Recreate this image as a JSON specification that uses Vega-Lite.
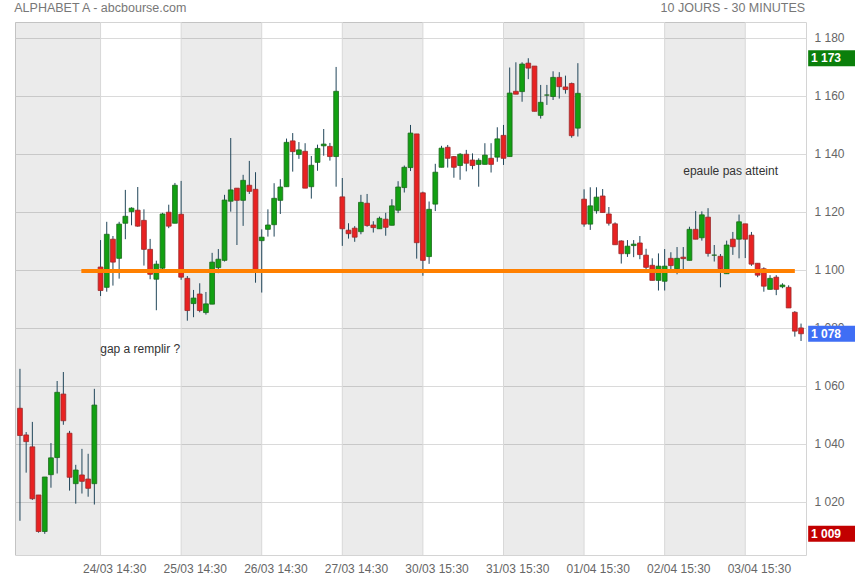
{
  "$schema": "https://vega.github.io/schema/vega-lite/v6.json",
  "width": 791,
  "height": 533,
  "autosize": {"type": "none"},
  "padding": {"left": 15, "top": 22, "right": 49, "bottom": 25},
  "background": "white",
  "config": {"view": {"stroke": "#d4d4d4"}, "font": "Liberation Sans"},
  "datasets": {
    "candles": [
      {"i":0,"o":1052.3,"h":1065.9,"l":1013.5,"c":1042.9},
      {"i":1,"o":1043.1,"h":1044.1,"l":1030.1,"c":1040.8},
      {"i":2,"o":1039.0,"h":1047.6,"l":1020.7,"c":1021.1},
      {"i":3,"o":1022.4,"h":1022.4,"l":1009.4,"c":1009.8},
      {"i":4,"o":1009.8,"h":1028.6,"l":1009.0,"c":1028.6},
      {"i":5,"o":1029.4,"h":1040.3,"l":1024.9,"c":1035.2},
      {"i":6,"o":1035.3,"h":1061.7,"l":1029.8,"c":1057.8},
      {"i":7,"o":1057.2,"h":1064.8,"l":1046.6,"c":1048.0},
      {"i":8,"o":1043.7,"h":1044.5,"l":1023.9,"c":1028.5},
      {"i":9,"o":1026.3,"h":1032.8,"l":1019.4,"c":1031.0},
      {"i":10,"o":1029.3,"h":1038.3,"l":1022.9,"c":1027.1},
      {"i":11,"o":1027.9,"h":1036.6,"l":1021.8,"c":1024.7},
      {"i":12,"o":1026.3,"h":1059.0,"l":1019.1,"c":1053.4},
      {"i":13,"o":1101.0,"h":1110.3,"l":1091.0,"c":1092.9},
      {"i":14,"o":1094.0,"h":1116.6,"l":1092.5,"c":1112.3},
      {"i":15,"o":1110.6,"h":1111.7,"l":1094.6,"c":1102.7},
      {"i":16,"o":1104.0,"h":1116.6,"l":1097.0,"c":1115.8},
      {"i":17,"o":1116.1,"h":1127.6,"l":1110.6,"c":1118.5},
      {"i":18,"o":1120.1,"h":1121.6,"l":1115.4,"c":1121.3},
      {"i":19,"o":1120.6,"h":1128.6,"l":1114.9,"c":1115.1},
      {"i":20,"o":1117.1,"h":1120.9,"l":1101.5,"c":1107.1},
      {"i":21,"o":1107.1,"h":1110.7,"l":1096.8,"c":1098.5},
      {"i":22,"o":1096.8,"h":1103.2,"l":1086.1,"c":1102.0},
      {"i":23,"o":1100.6,"h":1119.7,"l":1100.2,"c":1119.3},
      {"i":24,"o":1119.9,"h":1122.5,"l":1114.4,"c":1115.1},
      {"i":25,"o":1116.1,"h":1130.0,"l":1116.1,"c":1129.2},
      {"i":26,"o":1119.2,"h":1130.7,"l":1096.6,"c":1097.5},
      {"i":27,"o":1097.1,"h":1097.9,"l":1082.5,"c":1086.0},
      {"i":28,"o":1088.4,"h":1093.1,"l":1083.7,"c":1090.3},
      {"i":29,"o":1091.7,"h":1095.4,"l":1085.4,"c":1086.0},
      {"i":30,"o":1085.3,"h":1092.4,"l":1084.6,"c":1088.3},
      {"i":31,"o":1088.2,"h":1105.9,"l":1088.2,"c":1102.7},
      {"i":32,"o":1100.8,"h":1107.2,"l":1098.9,"c":1103.7},
      {"i":33,"o":1103.3,"h":1125.9,"l":1102.9,"c":1124.1},
      {"i":34,"o":1123.7,"h":1145.5,"l":1120.1,"c":1127.6},
      {"i":35,"o":1128.2,"h":1128.2,"l":1108.6,"c":1124.0},
      {"i":36,"o":1124.0,"h":1132.8,"l":1115.2,"c":1130.9},
      {"i":37,"o":1129.2,"h":1137.6,"l":1126.2,"c":1127.1},
      {"i":38,"o":1127.8,"h":1133.7,"l":1095.6,"c":1099.9},
      {"i":39,"o":1110.1,"h":1114.0,"l":1092.2,"c":1111.3},
      {"i":40,"o":1114.0,"h":1120.9,"l":1111.5,"c":1115.5},
      {"i":41,"o":1115.6,"h":1129.9,"l":1111.5,"c":1124.7},
      {"i":42,"o":1124.0,"h":1131.3,"l":1119.3,"c":1128.6},
      {"i":43,"o":1128.7,"h":1145.3,"l":1128.7,"c":1144.0},
      {"i":44,"o":1144.5,"h":1147.2,"l":1133.9,"c":1140.8},
      {"i":45,"o":1139.8,"h":1144.1,"l":1138.3,"c":1141.4},
      {"i":46,"o":1140.9,"h":1143.7,"l":1128.2,"c":1128.2},
      {"i":47,"o":1128.7,"h":1139.3,"l":1124.6,"c":1136.1},
      {"i":48,"o":1137.1,"h":1143.2,"l":1134.2,"c":1141.9},
      {"i":49,"o":1142.8,"h":1148.6,"l":1139.4,"c":1143.4},
      {"i":50,"o":1142.6,"h":1143.8,"l":1137.7,"c":1139.1},
      {"i":51,"o":1139.1,"h":1170.0,"l":1128.7,"c":1161.6},
      {"i":52,"o":1125.2,"h":1131.7,"l":1108.3,"c":1114.2},
      {"i":53,"o":1113.7,"h":1116.1,"l":1110.8,"c":1112.5},
      {"i":54,"o":1114.4,"h":1115.1,"l":1109.7,"c":1111.3},
      {"i":55,"o":1113.2,"h":1125.9,"l":1112.3,"c":1123.3},
      {"i":56,"o":1123.0,"h":1126.2,"l":1114.9,"c":1115.3},
      {"i":57,"o":1115.5,"h":1116.8,"l":1112.9,"c":1114.6},
      {"i":58,"o":1114.2,"h":1118.4,"l":1114.2,"c":1117.8},
      {"i":59,"o":1117.5,"h":1119.7,"l":1111.8,"c":1114.7},
      {"i":60,"o":1115.4,"h":1124.4,"l":1115.4,"c":1122.1},
      {"i":61,"o":1120.6,"h":1130.6,"l":1119.6,"c":1128.6},
      {"i":62,"o":1128.4,"h":1136.0,"l":1126.7,"c":1135.4},
      {"i":63,"o":1135.3,"h":1150.0,"l":1134.1,"c":1147.2},
      {"i":64,"o":1146.9,"h":1146.9,"l":1103.9,"c":1109.4},
      {"i":65,"o":1126.6,"h":1127.0,"l":1098.0,"c":1103.3},
      {"i":66,"o":1104.6,"h":1123.6,"l":1102.1,"c":1120.9},
      {"i":67,"o":1122.7,"h":1136.6,"l":1120.3,"c":1133.7},
      {"i":68,"o":1135.4,"h":1142.8,"l":1135.4,"c":1142.0},
      {"i":69,"o":1142.3,"h":1143.1,"l":1135.3,"c":1138.5},
      {"i":70,"o":1139.1,"h":1139.3,"l":1131.8,"c":1135.4},
      {"i":71,"o":1136.0,"h":1140.3,"l":1131.1,"c":1139.9},
      {"i":72,"o":1139.9,"h":1141.4,"l":1134.0,"c":1136.8},
      {"i":73,"o":1137.9,"h":1140.2,"l":1134.7,"c":1136.0},
      {"i":74,"o":1136.4,"h":1138.5,"l":1128.7,"c":1137.8},
      {"i":75,"o":1136.4,"h":1143.7,"l":1136.4,"c":1139.6},
      {"i":76,"o":1138.5,"h":1143.7,"l":1133.6,"c":1136.4},
      {"i":77,"o":1138.9,"h":1149.2,"l":1137.3,"c":1145.2},
      {"i":78,"o":1146.4,"h":1150.0,"l":1136.2,"c":1138.5},
      {"i":79,"o":1139.1,"h":1169.8,"l":1139.1,"c":1161.0},
      {"i":80,"o":1161.6,"h":1171.6,"l":1160.6,"c":1160.6},
      {"i":81,"o":1161.5,"h":1171.6,"l":1158.0,"c":1171.0},
      {"i":82,"o":1171.3,"h":1173.0,"l":1165.8,"c":1169.6},
      {"i":83,"o":1170.3,"h":1170.3,"l":1154.7,"c":1154.7},
      {"i":84,"o":1153.3,"h":1163.8,"l":1152.2,"c":1157.8},
      {"i":85,"o":1160.3,"h":1163.8,"l":1156.9,"c":1160.3},
      {"i":86,"o":1159.8,"h":1168.5,"l":1158.6,"c":1166.4},
      {"i":87,"o":1166.4,"h":1168.2,"l":1159.1,"c":1163.2},
      {"i":88,"o":1163.1,"h":1167.0,"l":1160.8,"c":1162.2},
      {"i":89,"o":1164.3,"h":1164.6,"l":1145.6,"c":1146.3},
      {"i":90,"o":1148.9,"h":1171.3,"l":1146.0,"c":1160.9},
      {"i":91,"o":1124.4,"h":1127.8,"l":1114.9,"c":1115.8},
      {"i":92,"o":1115.8,"h":1128.5,"l":1113.8,"c":1122.1},
      {"i":93,"o":1120.4,"h":1128.5,"l":1119.4,"c":1125.1},
      {"i":94,"o":1125.5,"h":1127.9,"l":1119.8,"c":1119.8},
      {"i":95,"o":1119.3,"h":1121.7,"l":1115.3,"c":1116.1},
      {"i":96,"o":1115.9,"h":1116.4,"l":1108.7,"c":1108.7},
      {"i":97,"o":1110.0,"h":1110.2,"l":1102.2,"c":1105.6},
      {"i":98,"o":1105.6,"h":1110.3,"l":1104.5,"c":1108.2},
      {"i":99,"o":1108.4,"h":1110.3,"l":1104.4,"c":1108.9},
      {"i":100,"o":1109.3,"h":1111.7,"l":1103.7,"c":1105.3},
      {"i":101,"o":1105.1,"h":1107.3,"l":1100.3,"c":1100.9},
      {"i":102,"o":1101.6,"h":1104.0,"l":1096.4,"c":1096.4},
      {"i":103,"o":1096.4,"h":1105.7,"l":1092.9,"c":1101.3},
      {"i":104,"o":1096.1,"h":1107.2,"l":1092.9,"c":1101.3},
      {"i":105,"o":1104.0,"h":1106.1,"l":1099.6,"c":1101.5},
      {"i":106,"o":1100.4,"h":1107.9,"l":1098.5,"c":1104.0},
      {"i":107,"o":1104.4,"h":1107.9,"l":1100.2,"c":1103.9},
      {"i":108,"o":1103.3,"h":1114.9,"l":1103.3,"c":1114.0},
      {"i":109,"o":1114.0,"h":1120.3,"l":1110.6,"c":1110.6},
      {"i":110,"o":1111.1,"h":1120.2,"l":1110.1,"c":1119.0},
      {"i":111,"o":1118.2,"h":1121.3,"l":1104.6,"c":1105.7},
      {"i":112,"o":1105.1,"h":1108.6,"l":1102.9,"c":1105.1},
      {"i":113,"o":1104.7,"h":1105.5,"l":1094.0,"c":1100.4},
      {"i":114,"o":1098.7,"h":1110.1,"l":1098.7,"c":1108.6},
      {"i":115,"o":1110.6,"h":1113.1,"l":1105.2,"c":1108.0},
      {"i":116,"o":1110.6,"h":1119.1,"l":1104.0,"c":1116.6},
      {"i":117,"o":1115.9,"h":1115.9,"l":1104.1,"c":1110.6},
      {"i":118,"o":1112.0,"h":1113.1,"l":1101.4,"c":1102.0},
      {"i":119,"o":1102.3,"h":1102.3,"l":1097.5,"c":1098.2},
      {"i":120,"o":1100.4,"h":1100.9,"l":1092.5,"c":1094.4},
      {"i":121,"o":1093.3,"h":1098.2,"l":1093.3,"c":1097.1},
      {"i":122,"o":1097.5,"h":1098.2,"l":1091.3,"c":1093.3},
      {"i":123,"o":1094.2,"h":1095.4,"l":1093.7,"c":1094.8},
      {"i":124,"o":1094.0,"h":1094.7,"l":1086.9,"c":1086.9},
      {"i":125,"o":1085.4,"h":1085.8,"l":1077.0,"c":1078.9},
      {"i":126,"o":1080.0,"h":1081.5,"l":1075.5,"c":1078.0}
    ],
    "bands": [
      {"s": -0.8, "e": 13},
      {"s": 26, "e": 39},
      {"s": 52, "e": 65},
      {"s": 78, "e": 91},
      {"s": 104, "e": 117}
    ],
    "dayStarts": [
      {"d": 13}, {"d": 26}, {"d": 39}, {"d": 52}, {"d": 65},
      {"d": 78}, {"d": 91}, {"d": 104}, {"d": 117}
    ],
    "level": [{"x1": 9.9, "x2": 125, "v": 1099.6}],
    "notes": [
      {"x": 12.95, "v": 1072.6, "t": "gap a remplir ?"},
      {"x": 107.0, "v": 1134.1, "t": "epaule pas atteint"}
    ],
    "badges": [
      {"v": 1173, "t": "1 173"},
      {"v": 1078, "t": "1 078"},
      {"v": 1009, "t": "1 009"}
    ]
  },
  "layer": [
    {
      "data": {"name": "bands"},
      "mark": {"type": "rect", "fill": "#000000", "fillOpacity": 0.078},
      "encoding": {
        "x": {"field": "s", "type": "quantitative", "title": null},
        "x2": {"field": "e"}
      }
    },
    {
      "data": {"name": "dayStarts"},
      "mark": {"type": "rule", "color": "#d8d8d8", "strokeWidth": 1},
      "encoding": {
        "x": {"field": "d", "type": "quantitative", "title": null}
      }
    },
    {
      "data": {"name": "candles"},
      "mark": {"type": "rule", "color": "#21465a", "strokeWidth": 1},
      "encoding": {
        "x": {
          "field": "i", "type": "quantitative", "title": null,
          "scale": {"domain": [-0.8, 126.8], "nice": false, "zero": false, "padding": 0},
          "axis": {
            "values": [15.2, 28.2, 41.2, 54.2, 67.2, 80.2, 93.2, 106.2, 119.2],
            "labelExpr": "['24/03 14:30','25/03 14:30','26/03 14:30','27/03 14:30','30/03 15:30','31/03 15:30','01/04 15:30','02/04 15:30','03/04 15:30'][round((datum.value - 15.2) / 13)]",
            "grid": false, "ticks": false, "tickSize": 0, "domain": false,
            "labelPadding": 8, "labelFontSize": 12, "labelColor": "#666666",
            "labelFont": "Liberation Sans"
          }
        },
        "y": {
          "field": "l", "type": "quantitative", "title": null,
          "scale": {"domain": [1001.7, 1185.5], "nice": false, "zero": false, "padding": 0},
          "axis": {
            "orient": "right",
            "values": [1020, 1040, 1060, 1080, 1100, 1120, 1140, 1160, 1180],
            "labelExpr": "replace(format(datum.value, ','), ',', ' ')",
            "grid": true, "gridColor": "#dadada", "gridWidth": 1,
            "ticks": false, "tickSize": 0, "domain": false,
            "labelPadding": 8, "labelFontSize": 12, "labelColor": "#666666",
            "labelFont": "Liberation Sans"
          }
        },
        "y2": {"field": "h"}
      }
    },
    {
      "data": {"name": "candles"},
      "mark": {"type": "bar", "size": 4.8, "strokeWidth": 0.8},
      "encoding": {
        "x": {"field": "i", "type": "quantitative", "title": null},
        "y": {"field": "o", "type": "quantitative", "title": null},
        "y2": {"field": "c"},
        "fill": {"condition": {"test": "datum.c >= datum.o", "value": "#12a012"}, "value": "#e82222"},
        "stroke": {"condition": {"test": "datum.c >= datum.o", "value": "#1c6a1c"}, "value": "#9a2a2a"}
      }
    },
    {
      "data": {"name": "level"},
      "mark": {"type": "rule", "color": "#ff8000", "strokeWidth": 4, "strokeCap": "butt"},
      "encoding": {
        "x": {"field": "x1", "type": "quantitative", "title": null},
        "x2": {"field": "x2"},
        "y": {"field": "v", "type": "quantitative", "title": null}
      }
    },
    {
      "data": {"name": "notes"},
      "mark": {"type": "text", "align": "left", "baseline": "middle", "fontSize": 12, "color": "#333333", "font": "Liberation Sans"},
      "encoding": {
        "x": {"field": "x", "type": "quantitative", "title": null},
        "y": {"field": "v", "type": "quantitative", "title": null},
        "text": {"field": "t"}
      }
    },
    {
      "data": {"name": "badges"},
      "mark": {"type": "rule", "strokeWidth": 16, "strokeCap": "butt"},
      "encoding": {
        "x": {"datum": 127.15, "type": "quantitative"},
        "x2": {"datum": 134.9},
        "y": {"field": "v", "type": "quantitative", "title": null},
        "color": {"field": "t", "type": "nominal", "legend": null,
          "scale": {"domain": ["1 173", "1 078", "1 009"], "range": ["#0b7f0b", "#3f6ef5", "#c20000"]}}
      }
    },
    {
      "data": {"name": "badges"},
      "mark": {"type": "text", "align": "left", "baseline": "middle", "fontSize": 12, "fontWeight": "bold", "color": "#ffffff", "font": "Liberation Sans"},
      "encoding": {
        "x": {"datum": 127.6, "type": "quantitative"},
        "y": {"field": "v", "type": "quantitative", "title": null},
        "text": {"field": "t"}
      }
    },
    {
      "data": {"values": [{"t": "ALPHABET A - abcbourse.com"}]},
      "mark": {"type": "text", "align": "left", "baseline": "middle", "fontSize": 12.5, "color": "#777777", "font": "Liberation Sans"},
      "encoding": {
        "x": {"datum": -0.92, "type": "quantitative"},
        "y": {"datum": 1190.2, "type": "quantitative"},
        "text": {"field": "t"}
      }
    },
    {
      "data": {"values": [{"t": "10 JOURS - 30 MINUTES"}]},
      "mark": {"type": "text", "align": "right", "baseline": "middle", "fontSize": 12.5, "color": "#777777", "font": "Liberation Sans"},
      "encoding": {
        "x": {"datum": 126.65, "type": "quantitative"},
        "y": {"datum": 1190.2, "type": "quantitative"},
        "text": {"field": "t"}
      }
    }
  ]
}
